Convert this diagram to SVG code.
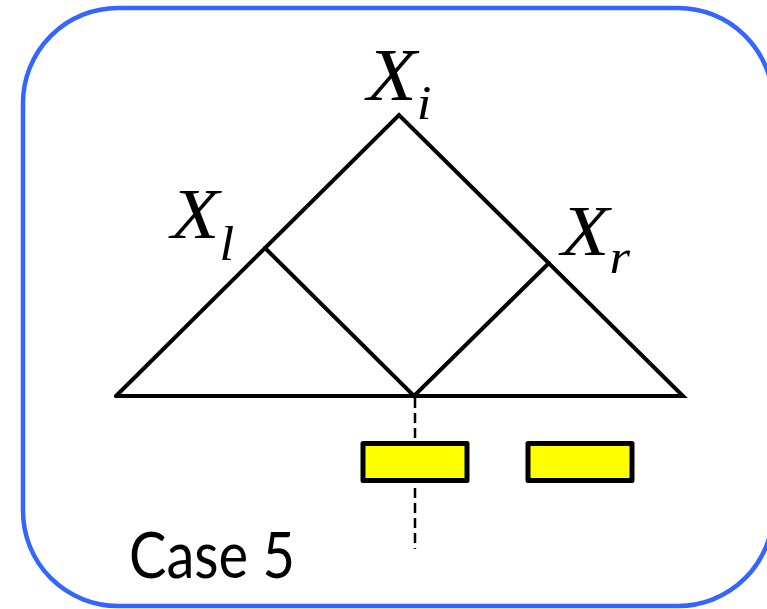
<svg xmlns="http://www.w3.org/2000/svg" width="767" height="609" viewBox="0 0 767 609">
<style>
.frame{fill:#fff;stroke:#3366ff;stroke-width:4.5}
.edge{fill:none;stroke:#000;stroke-width:4;stroke-linejoin:miter;stroke-linecap:round}
.dash{fill:none;stroke:#000;stroke-width:2.5;stroke-dasharray:10 5}
.seg{fill:#ffff00;stroke:#000;stroke-width:5;stroke-linejoin:round}
.lbl{font-family:"Liberation Serif","Times New Roman",serif;font-style:italic;fill:#000}
.case{font-family:Lato,"Open Sans",sans-serif;fill:#000}
</style>
<rect class="frame" x="23" y="8" width="750" height="598" rx="95" ry="95"/>
<g id="connectors">
<polyline class="edge" points="116,396 399,115 683,396 116,396"/>
<polyline class="edge" points="265,248 414,396 549,263"/>
<line class="dash" x1="415" y1="398" x2="415" y2="549"/>
</g>
<g id="node-Xi" transform="translate(367,100) scale(1.1,1)"><text class="lbl" x="0" y="0" font-size="74">X<tspan font-size="48" dy="19">i</tspan></text></g>
<g id="node-Xl" transform="translate(171,238) scale(1.1,1)"><text class="lbl" x="0" y="0" font-size="72">X<tspan font-size="48" dy="22">l</tspan></text></g>
<g id="node-Xr" transform="translate(561,255) scale(1.1,1)"><text class="lbl" x="0" y="0" font-size="72">X<tspan font-size="48" dy="18">r</tspan></text></g>
<g id="seg1"><rect class="seg" x="363" y="443.5" width="104" height="37"/></g>
<g id="seg2"><rect class="seg" x="528" y="443.5" width="104" height="37"/></g>
<g id="label-case"><text class="case" x="129" y="578" font-size="64" textLength="166" lengthAdjust="spacingAndGlyphs">Case 5</text></g>
</svg>
